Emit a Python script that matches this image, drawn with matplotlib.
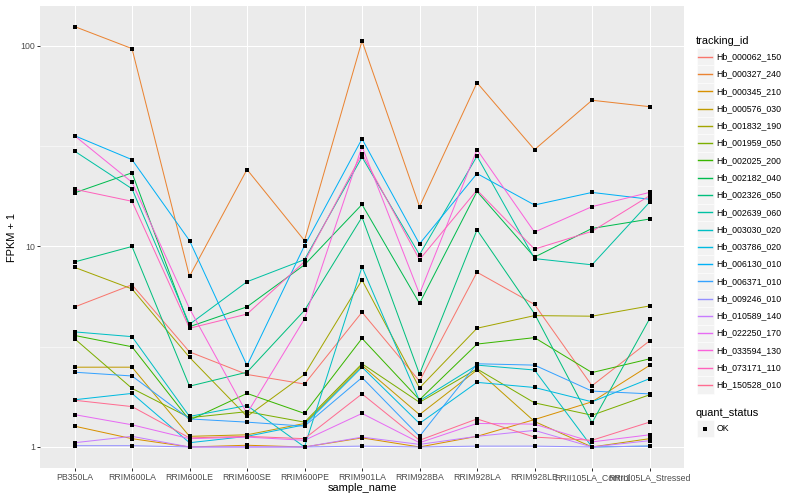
import numpy as np
import matplotlib.pyplot as plt
from matplotlib.patches import Rectangle
from matplotlib.lines import Line2D

plt.rcParams['font.family'] = ['Liberation Sans', 'DejaVu Sans']

# 样本名称（x轴）
samples = ['PB350LA', 'RRIM600LA', 'RRIM600LE', 'RRIM600SE', 'RRIM600PE', 'RRIM901LA',
           'RRIM928BA', 'RRIM928LA', 'RRIM928LE', 'RRII105LA_Control', 'RRII105LA_Stressed']

# 基因 ID 与 ggplot 默认色
tracking_ids = ['Hb_000062_150', 'Hb_000327_240', 'Hb_000345_210', 'Hb_000576_030',
                'Hb_001832_190', 'Hb_001959_050', 'Hb_002025_200', 'Hb_002182_040',
                'Hb_002326_050', 'Hb_002639_060', 'Hb_003030_020', 'Hb_003786_020',
                'Hb_006130_010', 'Hb_006371_010', 'Hb_009246_010', 'Hb_010589_140',
                'Hb_022250_170', 'Hb_033594_130', 'Hb_073171_110', 'Hb_150528_010']
colors = ['#F8766D', '#EA8331', '#D89000', '#C09B00', '#A3A500', '#7CAE00', '#39B600',
          '#00BB4E', '#00BF7D', '#00C1A3', '#00BFC4', '#00BAE0', '#00B0F6', '#35A2FF',
          '#9590FF', '#C77CFF', '#E76BF3', '#FA62DB', '#FF62BC', '#FF6C91']

# FPKM + 1，按样本顺序
hb_000062_150 = [4.99, 6.44, 2.98, 2.30, 2.06, 4.70, 2.13, 7.44, 5.14, 2.02, 3.38]
hb_000327_240 = [125, 97, 7.1, 24.2, 10.7, 106, 15.8, 65.6, 30.4, 53.6, 49.8]
hb_000345_210 = [1.27, 1.10, 1.0, 1.02, 1.0, 1.11, 1.0, 1.13, 1.37, 1.68, 2.55]
hb_000576_030 = [2.50, 2.50, 1.13, 1.15, 1.31, 2.55, 1.45, 2.42, 1.34, 1.0, 1.10]
hb_001832_190 = [7.87, 6.14, 2.80, 1.42, 2.30, 6.80, 1.97, 3.91, 4.52, 4.49, 5.05]
hb_001959_050 = [3.47, 1.96, 1.40, 1.50, 1.33, 2.60, 1.67, 2.45, 1.66, 1.44, 1.82]
hb_002025_200 = [3.60, 3.16, 1.36, 1.85, 1.47, 3.48, 1.72, 3.26, 3.51, 2.35, 2.75]
hb_002182_040 = [18.5, 23.3, 3.98, 5.0, 8.1, 16.2, 5.2, 18.8, 8.85, 12.3, 13.7]
hb_002326_050 = [8.37, 10.0, 2.01, 2.36, 4.8, 14.0, 2.31, 12.1, 4.62, 1.32, 4.35]
hb_002639_060 = [29.9, 19.4, 4.09, 6.67, 8.6, 27.9, 9.1, 28.2, 8.7, 8.1, 16.6]
hb_003030_020 = [3.75, 3.55, 1.42, 1.61, 1.0, 7.9, 1.70, 2.56, 2.42, 1.0, 1.01]
hb_003786_020 = [1.72, 1.85, 1.05, 1.13, 1.29, 2.50, 1.31, 2.10, 1.98, 1.68, 2.19]
hb_006130_010 = [35.7, 27.1, 10.7, 2.55, 10.1, 34.4, 10.3, 23.1, 16.1, 18.6, 17.2]
hb_006371_010 = [2.36, 2.26, 1.38, 1.33, 1.27, 2.22, 1.13, 2.60, 2.56, 1.90, 1.84]
hb_009246_010 = [1.015, 1.015, 1.0, 1.0, 1.0, 1.01, 1.0, 1.01, 1.01, 1.0, 1.01]
hb_010589_140 = [1.05, 1.13, 1.0, 1.0, 1.0, 1.12, 1.03, 1.13, 1.21, 1.0, 1.075]
hb_022250_170 = [1.45, 1.29, 1.10, 1.12, 1.08, 1.47, 1.05, 1.31, 1.30, 1.06, 1.15]
hb_033594_130 = [35.7, 20.9, 4.9, 1.47, 4.35, 31.5, 5.8, 30.4, 11.8, 15.8, 18.6]
hb_073171_110 = [19.3, 16.8, 3.91, 4.6, 8.4, 29.0, 8.6, 19.1, 9.7, 11.9, 17.9]
hb_150528_010 = [1.71, 1.59, 1.11, 1.13, 1.10, 1.84, 1.08, 1.38, 1.12, 1.08, 1.33]

series = [hb_000062_150, hb_000327_240, hb_000345_210, hb_000576_030, hb_001832_190,
          hb_001959_050, hb_002025_200, hb_002182_040, hb_002326_050, hb_002639_060,
          hb_003030_020, hb_003786_020, hb_006130_010, hb_006371_010, hb_009246_010,
          hb_010589_140, hb_022250_170, hb_033594_130, hb_073171_110, hb_150528_010]

W, H = 800, 500
fig = plt.figure(figsize=(W / 72, H / 72), dpi=72)


def fx(px):
    return px / W


def fy(py):
    return 1 - py / H


# 面板位置（像素）
left, right, top, bottom = 40, 684, 5.5, 468
ax = fig.add_axes([fx(left), fy(bottom), fx(right - left), (bottom - top) / H])
ax.set_facecolor('#EBEBEB')
for s in ax.spines.values():
    s.set_visible(False)

x = np.arange(len(samples))
for vals, c in zip(series, colors):
    ax.plot(x, vals, color=c, lw=1.0, zorder=2)
for vals in series:
    ax.plot(x, vals, ls='none', marker='s', ms=3.6, mew=0, color='black', zorder=3)

ax.set_yscale('log')
all_vals = np.concatenate([np.array(v, dtype=float) for v in series])
lo, hi = np.log10(all_vals.min()), np.log10(all_vals.max())
pad = 0.05 * (hi - lo)
ax.set_ylim(10 ** (lo - pad), 10 ** (hi + pad))
ax.set_xlim(-0.6, len(samples) - 0.4)

ax.set_yticks([1, 10, 100])
ax.set_yticklabels(['1', '10', '100'])
ax.set_yticks([10 ** 0.5, 10 ** 1.5], minor=True)
ax.yaxis.set_minor_formatter(plt.NullFormatter())
ax.set_xticks(x)
ax.set_xticklabels(samples)

ax.grid(which='major', color='white', lw=1.07, zorder=0)
ax.grid(which='minor', axis='y', color='white', lw=0.53, zorder=0)
ax.set_axisbelow(True)
ax.tick_params(which='major', length=2.75, width=1.0, color='#333333',
               labelcolor='#4D4D4D', labelsize=8.8, pad=2.2)
ax.tick_params(which='minor', length=0)

fig.text(fx(362), fy(488), 'sample_name', ha='center', va='center', fontsize=11)
fig.text(fx(12), fy(237), 'FPKM + 1', ha='center', va='center', rotation=90, fontsize=11)

# 图例
key_l, key_s, txt_x = 696.7, 17.28, 716.5
fig.text(fx(696), fy(40.5), 'tracking_id', ha='left', va='center', fontsize=11)
for i, (name, c) in enumerate(zip(tracking_ids, colors)):
    cy = 56.7 + i * key_s
    fig.add_artist(Rectangle((fx(key_l), fy(cy + key_s / 2)), key_s / W, key_s / H,
                             transform=fig.transFigure, facecolor='#F2F2F2',
                             edgecolor='white', lw=0.5, zorder=1))
    fig.add_artist(Line2D([fx(key_l + 1.7), fx(key_l + key_s - 1.7)], [fy(cy), fy(cy)],
                          transform=fig.transFigure, color=c, lw=1.4, zorder=2))
    fig.text(fx(txt_x), fy(cy), name, ha='left', va='center', fontsize=8.8)

fig.text(fx(696), fy(412.5), 'quant_status', ha='left', va='center', fontsize=11)
cy = 428.7
fig.add_artist(Rectangle((fx(key_l), fy(cy + key_s / 2)), key_s / W, key_s / H,
                         transform=fig.transFigure, facecolor='#F2F2F2',
                         edgecolor='white', lw=0.5, zorder=1))
fig.add_artist(Line2D([fx(key_l + key_s / 2)], [fy(cy)], transform=fig.transFigure,
                      ls='none', marker='s', ms=3.6, mew=0, color='black', zorder=2))
fig.text(fx(txt_x), fy(cy), 'OK', ha='left', va='center', fontsize=8.8)

fig.savefig('out.png', dpi=72)
